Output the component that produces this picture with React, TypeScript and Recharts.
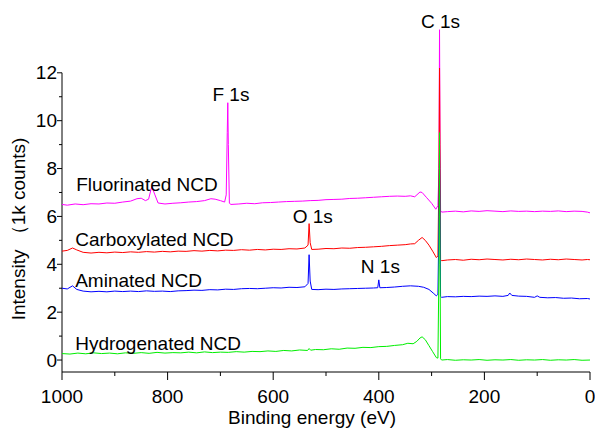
import { LineChart, Line, XAxis, YAxis, ReferenceLine, ReferenceDot } from "recharts";

// XPS survey spectra, [binding energy eV, intensity (1k counts)]
const fluorinated: [number, number][] = [
  [1000, 6.5], [990, 6.47], [975, 6.52], [960, 6.49], [945, 6.53], [930, 6.52], [915, 6.56],
  [900, 6.55], [885, 6.6], [870, 6.64], [858, 6.74], [850, 6.76], [842, 6.66], [836, 6.72],
  [830, 7.25], [824, 6.9], [818, 6.56], [805, 6.52], [790, 6.55], [775, 6.57], [760, 6.6],
  [745, 6.62], [730, 6.66], [718, 6.74], [710, 6.72], [700, 6.66], [692, 6.6], [689, 6.9],
  [687, 9.5], [686, 10.75], [685, 9.0], [683, 6.55], [680, 6.5], [665, 6.52], [650, 6.55],
  [635, 6.53], [620, 6.57], [605, 6.58], [590, 6.6], [575, 6.62], [560, 6.63], [545, 6.64],
  [530, 6.66], [515, 6.67], [500, 6.7], [485, 6.71], [470, 6.72], [455, 6.75], [440, 6.76],
  [425, 6.78], [410, 6.8], [395, 6.82], [380, 6.84], [365, 6.85], [350, 6.84], [340, 6.86],
  [332, 6.82], [322, 7.02], [318, 7.0], [310, 6.8], [300, 6.55], [292, 6.3], [288, 6.45],
  [286, 8], [285, 13.8], [284, 9], [283, 6.25], [281, 6.18], [270, 6.2], [255, 6.22],
  [240, 6.19], [225, 6.23], [210, 6.21], [195, 6.24], [180, 6.22], [165, 6.2], [150, 6.23],
  [135, 6.21], [120, 6.22], [105, 6.2], [90, 6.22], [75, 6.21], [60, 6.23], [45, 6.2],
  [30, 6.22], [15, 6.21], [5, 6.18], [0, 6.15],
];

const carboxylated: [number, number][] = [
  [1000, 4.55], [990, 4.58], [980, 4.68], [972, 4.6], [960, 4.5], [945, 4.47], [930, 4.5],
  [915, 4.48], [900, 4.51], [885, 4.49], [870, 4.52], [855, 4.5], [840, 4.53], [825, 4.51],
  [810, 4.54], [795, 4.52], [780, 4.55], [765, 4.54], [750, 4.57], [735, 4.55], [720, 4.58],
  [705, 4.56], [690, 4.59], [675, 4.58], [660, 4.61], [645, 4.59], [630, 4.62], [615, 4.6],
  [600, 4.63], [585, 4.62], [570, 4.65], [555, 4.64], [540, 4.68], [534, 4.8], [532, 5.7],
  [530, 4.9], [527, 4.62], [515, 4.63], [500, 4.66], [485, 4.65], [470, 4.68], [455, 4.67],
  [440, 4.7], [425, 4.71], [410, 4.73], [395, 4.75], [380, 4.78], [365, 4.8], [350, 4.82],
  [340, 4.85], [332, 4.86], [325, 5.0], [318, 5.12], [312, 5.0], [305, 4.8], [298, 4.55],
  [291, 4.28], [288, 4.35], [286, 8], [285, 12.2], [284, 8], [283, 4.2], [281, 4.15],
  [270, 4.18], [255, 4.2], [240, 4.17], [225, 4.21], [210, 4.19], [195, 4.22], [180, 4.2],
  [165, 4.18], [150, 4.21], [135, 4.19], [120, 4.22], [105, 4.2], [90, 4.18], [75, 4.21],
  [60, 4.19], [45, 4.22], [30, 4.2], [15, 4.18], [5, 4.2], [0, 4.19],
];

const aminated: [number, number][] = [
  [1000, 3.0], [990, 2.97], [980, 3.1], [972, 2.95], [960, 2.88], [945, 2.85], [930, 2.87],
  [915, 2.85], [900, 2.88], [885, 2.86], [870, 2.88], [855, 2.86], [840, 2.89], [825, 2.87],
  [810, 2.88], [795, 2.86], [780, 2.89], [765, 2.9], [750, 2.92], [735, 2.91], [720, 2.94],
  [705, 2.93], [690, 2.96], [675, 2.95], [660, 2.98], [645, 2.99], [630, 2.98], [615, 3.0],
  [600, 3.02], [585, 3.01], [570, 3.04], [555, 3.03], [540, 3.06], [534, 3.2], [532, 4.4],
  [530, 3.3], [527, 2.95], [515, 2.94], [500, 2.96], [485, 2.95], [470, 2.97], [455, 2.98],
  [440, 2.99], [425, 3.0], [410, 3.01], [402, 3.02], [400, 3.35], [398, 3.02], [385, 3.03],
  [370, 3.05], [355, 3.08], [340, 3.1], [325, 3.08], [315, 3.04], [305, 2.95], [297, 2.8],
  [291, 2.68], [288, 2.75], [286, 6], [285, 8.8], [284, 6], [283, 2.66], [281, 2.62],
  [270, 2.65], [255, 2.64], [240, 2.66], [225, 2.65], [210, 2.67], [195, 2.66], [180, 2.68],
  [165, 2.66], [155, 2.7], [152, 2.8], [148, 2.7], [135, 2.67], [120, 2.66], [105, 2.62],
  [100, 2.68], [95, 2.62], [80, 2.6], [65, 2.61], [50, 2.58], [35, 2.59], [20, 2.56],
  [5, 2.57], [0, 2.55],
];

const hydrogenated: [number, number][] = [
  [1000, 0.27], [985, 0.25], [970, 0.29], [955, 0.26], [940, 0.3], [925, 0.27], [910, 0.29],
  [895, 0.26], [880, 0.3], [865, 0.28], [850, 0.31], [835, 0.28], [820, 0.32], [805, 0.29],
  [790, 0.31], [775, 0.3], [760, 0.33], [745, 0.3], [730, 0.34], [715, 0.31], [700, 0.33],
  [685, 0.32], [670, 0.35], [655, 0.33], [640, 0.36], [625, 0.35], [610, 0.38], [595, 0.36],
  [580, 0.4], [565, 0.38], [550, 0.42], [535, 0.4], [532, 0.48], [529, 0.41], [520, 0.44],
  [505, 0.43], [490, 0.47], [475, 0.45], [460, 0.5], [445, 0.49], [430, 0.53], [415, 0.52],
  [400, 0.56], [385, 0.57], [370, 0.61], [355, 0.64], [345, 0.7], [335, 0.68], [328, 0.78],
  [322, 0.92], [318, 0.97], [312, 0.85], [305, 0.6], [298, 0.35], [291, 0.1], [288, 0.08],
  [286, 4], [285, 9.5], [284, 4], [283, 0.05], [281, 0.0], [270, 0.02], [255, -0.01],
  [240, 0.01], [225, 0.0], [210, 0.02], [195, -0.01], [180, 0.01], [165, 0.0], [150, 0.02],
  [135, -0.01], [120, 0.01], [105, 0.0], [90, 0.02], [75, -0.01], [60, 0.01], [45, 0.0],
  [30, 0.02], [15, -0.01], [0, 0.0],
];

const xTicks = [0, 100, 200, 300, 400, 500, 600, 700, 800, 900, 1000];
const yTicks = [0, 1, 2, 3, 4, 5, 6, 7, 8, 9, 10, 11, 12];

// text annotations: [energy, intensity, text, anchor]
const annotations: [number, number, string, "start" | "middle"][] = [
  [680, 11.08, "F 1s", "middle"],
  [283, 14.13, "C 1s", "middle"],
  [525, 5.98, "O 1s", "middle"],
  [397, 3.89, "N 1s", "middle"],
  [973, 7.32, "Fluorinated NCD", "start"],
  [975, 5.02, "Carboxylated NCD", "start"],
  [975, 3.34, "Aminated NCD", "start"],
  [975, 0.71, "Hydrogenated NCD", "start"],
];

const FONT = "'Liberation Sans', Arial, Helvetica, sans-serif";

const toRows = (pts: [number, number][]) => pts.map(([e, v]) => ({ e, v }));

const XTick = (props: any) => {
  const { x, y, payload } = props;
  const major = payload.value % 200 === 0;
  return (
    <g>
      <line x1={x} y1={y} x2={x} y2={y + (major ? 8 : 4)} stroke="#000" />
      {major && (
        <text x={x} y={y + 24} textAnchor="middle" dominantBaseline="central" fontSize={19} fill="#000" fontFamily={FONT}>
          {payload.value}
        </text>
      )}
    </g>
  );
};

const YTick = (props: any) => {
  const { x, y, payload } = props;
  const major = payload.value % 2 === 0;
  return (
    <g>
      <line x1={x - (major ? 5 : 3)} y1={y} x2={x} y2={y} stroke="#000" />
      {major && (
        <text x={x - 5} y={y} textAnchor="end" dominantBaseline="central" fontSize={19} fill="#000" fontFamily={FONT}>
          {payload.value}
        </text>
      )}
    </g>
  );
};

export default function App() {
  return (
    <div style={{ position: "absolute", left: 0, top: 0, width: 595, height: 429, background: "#fff" }}>
      <LineChart width={595} height={429} margin={{ top: 1, right: 5, bottom: 0, left: 0 }}>
        <XAxis
          dataKey="e"
          type="number"
          domain={[0, 1000]}
          reversed
          ticks={xTicks}
          allowDataOverflow
          height={57}
          tickSize={0}
          tickMargin={0}
          tickLine={false}
          tick={<XTick />}
          axisLine={{ stroke: "#000" }}
          label={{
            content: (p: any) => (
              <text
                x={p.viewBox.x + p.viewBox.width / 2 - 14}
                y={p.viewBox.y + 45}
                textAnchor="middle"
                dominantBaseline="central"
                fontSize={19}
                fontFamily={FONT}
                fill="#000"
              >
                Binding energy (eV)
              </text>
            ),
          }}
        />
        <YAxis
          type="number"
          domain={[-0.5, 15]}
          ticks={yTicks}
          allowDataOverflow
          width={62}
          tickSize={0}
          tickMargin={0}
          tickLine={false}
          tick={<YTick />}
          axisLine={false}
          label={{
            content: () => (
              <text
                x={18}
                y={229}
                transform="rotate(-90 18 229)"
                textAnchor="middle"
                dominantBaseline="central"
                fontSize={19}
                fontFamily={FONT}
                fill="#000"
              >
                Intensity （1k counts)
              </text>
            ),
          }}
        />
        <ReferenceLine
          segment={[{ x: 1000, y: -0.5 }, { x: 1000, y: 12 }]}
          stroke="#000"
          strokeWidth={1}
        />
        <Line data={toRows(fluorinated)} dataKey="v" stroke="#ff00ff" strokeWidth={1} dot={false} isAnimationActive={false} />
        <Line data={toRows(carboxylated)} dataKey="v" stroke="#ff0000" strokeWidth={1} dot={false} isAnimationActive={false} />
        <Line data={toRows(aminated)} dataKey="v" stroke="#0000ff" strokeWidth={1} dot={false} isAnimationActive={false} />
        <Line data={toRows(hydrogenated)} dataKey="v" stroke="#00ee00" strokeWidth={1} dot={false} isAnimationActive={false} />
        {annotations.map(([e, v, t, anchor]) => (
          <ReferenceDot
            key={t}
            x={e}
            y={v}
            r={1}
            ifOverflow="visible"
            shape={(p: any) => (
              <text x={p.cx} y={p.cy} textAnchor={anchor} dominantBaseline="central" fontSize={19} fontFamily={FONT} fill="#000">
                {t}
              </text>
            )}
          />
        ))}
      </LineChart>
    </div>
  );
}
